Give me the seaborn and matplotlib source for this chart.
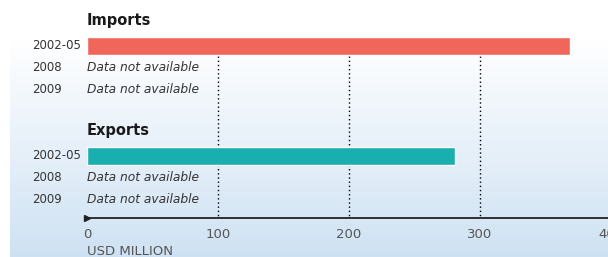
import numpy as np
import pandas as pd
import matplotlib
matplotlib.use("Agg")
import matplotlib.pyplot as plt
import seaborn as sns

# data (USD million)
periods = ["2002-05", "2008", "2009"]
imports = [369, np.nan, np.nan]
exports = [281, np.nan, np.nan]
x_ticks = [0, 100, 200, 300, 400]
missing_text = "Data not available"

imp_color = "#f0665a"
exp_color = "#1aafaf"

sns.set_theme(style="white")
plt.rcParams["font.family"] = ["DejaVu Sans"]

# one row per line of the chart, headers and a gap row included
rows = ["imp_hdr"] + [f"imp_{p}" for p in periods] + ["gap", "exp_hdr"] + [f"exp_{p}" for p in periods]
df = pd.DataFrame({
    "row": [f"imp_{p}" for p in periods] + [f"exp_{p}" for p in periods],
    "value": imports + exports,
    "flow": ["Imports"] * 3 + ["Exports"] * 3,
})

fig = plt.figure(figsize=(6.08, 2.57), dpi=100)

# gradient background panel
bg = fig.add_axes([10 / 608, 0, 1, 1], zorder=-5)
grad = np.linspace(0, 1, 256).reshape(-1, 1)
grad = np.clip((grad - 0.15) / 0.85, 0, 1)
top = np.array([1.0, 1.0, 1.0])
bot = np.array([0.81, 0.885, 0.953])
img = top + (bot - top) * grad[..., None]
bg.imshow(img, aspect="auto", extent=[0, 1, 0, 1], origin="upper")
bg.axis("off")

ax = fig.add_axes([87 / 608, 39 / 257, 524 / 608, 218 / 257])
ax.patch.set_alpha(0)
sns.barplot(data=df, x="value", y="row", hue="flow", order=rows,
            hue_order=["Imports", "Exports"], palette=[imp_color, exp_color],
            orient="h", width=0.82, dodge=False, saturation=1, legend=False,
            ax=ax, zorder=3)

ax.set_xlim(0, 400)
ax.set_ylim(8.82, -1.09)

# dotted gridlines
for t in x_ticks[1:4]:
    ax.vlines(t, 1.45, 8.82, colors="black", linestyles=(0, (1, 2)), linewidth=1, zorder=1)

for s in ["top", "right", "left"]:
    ax.spines[s].set_visible(False)
ax.spines["bottom"].set_color("#222222")
ax.spines["bottom"].set_linewidth(1.3)
ax.plot([0], [8.82], marker=">", color="#222222", markersize=4, clip_on=False, zorder=5)

ax.set_xticks(x_ticks)
ax.set_xticklabels([str(t) for t in x_ticks], fontsize=9.5, color="#555555")
ax.tick_params(axis="x", length=0, pad=7)
ax.set_yticks([])
ax.set_xlabel("")
ax.set_ylabel("")

# row labels and titles
for i, r in enumerate(rows):
    if r.endswith("_hdr"):
        title = "Imports" if r.startswith("imp") else "Exports"
        ax.text(0, i - 0.15, title, fontsize=10.5, fontweight="bold", color="#1a1a1a",
                ha="left", va="center")
    elif r != "gap":
        p = r.split("_", 1)[1]
        ax.text(-55 / 1.31, i, p, fontsize=8.5, color="#333333", ha="left", va="center")
        vals = imports if r.startswith("imp") else exports
        if np.isnan(vals[periods.index(p)]):
            ax.text(0, i, missing_text, fontsize=8.8, style="italic", color="#333333",
                    ha="left", va="center")

fig.text(87 / 608, 1 - 245 / 257, "USD MILLION", fontsize=9.5, color="#555555",
         ha="left", va="top")

fig.savefig("out.png", dpi=100)
